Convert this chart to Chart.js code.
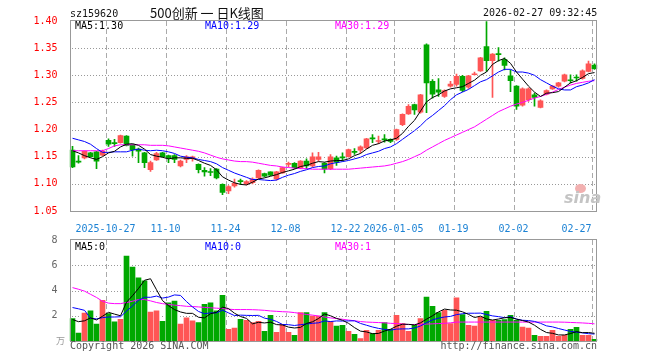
<!DOCTYPE html>
<html>
<head>
<meta charset="utf-8">
<script src="https://cdn.jsdelivr.net/npm/chart.js@4/dist/chart.umd.min.js"></script>
<style>
  html, body { margin: 0; padding: 0; background: #fff; }
  #wrap { position: relative; width: 660px; height: 360px; overflow: hidden;
          font-family: "DejaVu Sans Mono", monospace; font-size: 10px; line-height: 10px; }
  #wrap canvas { position: absolute; left: 0; }
  .t { position: absolute; white-space: pre; }
  .title { font-family: "Noto Sans CJK SC", sans-serif; font-size: 13px; line-height: 13px; color: #111; }
  .logo { font-family: "DejaVu Sans", sans-serif; font-weight: bold; font-style: italic;
          font-size: 16px; line-height: 16px; color: #c4c4c4; }
  .eye { position: absolute; width: 11px; height: 9px; border-radius: 50%; background: #f2b0b0; }
</style>
</head>
<body>
<div id="wrap">
  <canvas id="kline" width="660" height="235" style="top:0"></canvas>
  <canvas id="vol" width="660" height="135" style="top:225px"></canvas>

  <div class="t" style="left:70px;top:9px;color:#111">sz159620</div>
  <div class="t title" style="left:150px;top:6px">500创新 一 日K线图</div>
  <div class="t" style="left:483px;top:8px;color:#111">2026-02-27 09:32:45</div>

  <div class="t" style="left:75px;top:21px;color:#000">MA5:1.30</div>
  <div class="t" style="left:205px;top:21px;color:#0000ff">MA10:1.29</div>
  <div class="t" style="left:335px;top:21px;color:#ff00ff">MA30:1.29</div>

  <div class="t" style="left:75px;top:242px;color:#000">MA5:0</div>
  <div class="t" style="left:205px;top:242px;color:#0000ff">MA10:0</div>
  <div class="t" style="left:335px;top:242px;color:#ff00ff">MA30:1</div>

  <div class="t" style="left:70px;top:341px;color:#555">Copyright 2026 SINA.COM</div>
  <div class="t" style="right:63px;top:341px;color:#555">http://finance.sina.com.cn</div>
  <div class="t" style="left:56px;top:336px;color:#999;font-family:'Noto Sans CJK SC';font-size:9px;line-height:9px">万</div>

  <div class="eye" style="left:575px;top:184px"></div>
  <div class="t logo" style="left:564px;top:190px">sina</div>
</div>

<script>
"use strict";

// trading days shown (one candle each)
const dates = [
  "2025-10-17", "2025-10-20", "2025-10-21", "2025-10-22", "2025-10-23", "2025-10-24",
  "2025-10-27", "2025-10-28", "2025-10-29", "2025-10-30", "2025-10-31",
  "2025-11-03", "2025-11-04", "2025-11-05", "2025-11-06", "2025-11-07",
  "2025-11-10", "2025-11-11", "2025-11-12", "2025-11-13", "2025-11-14",
  "2025-11-17", "2025-11-18", "2025-11-19", "2025-11-20", "2025-11-21",
  "2025-11-24", "2025-11-25", "2025-11-26", "2025-11-27", "2025-11-28",
  "2025-12-01", "2025-12-02", "2025-12-03", "2025-12-04", "2025-12-05",
  "2025-12-08", "2025-12-09", "2025-12-10", "2025-12-11", "2025-12-12",
  "2025-12-15", "2025-12-16", "2025-12-17", "2025-12-18", "2025-12-19",
  "2025-12-22", "2025-12-23", "2025-12-24", "2025-12-25", "2025-12-26",
  "2025-12-29", "2025-12-30", "2025-12-31",
  "2026-01-05", "2026-01-06", "2026-01-07", "2026-01-08", "2026-01-09",
  "2026-01-12", "2026-01-13", "2026-01-14", "2026-01-15", "2026-01-16",
  "2026-01-19", "2026-01-20", "2026-01-21", "2026-01-22", "2026-01-23",
  "2026-01-26", "2026-01-27", "2026-01-28", "2026-01-29", "2026-01-30",
  "2026-02-02", "2026-02-03", "2026-02-04", "2026-02-05", "2026-02-06",
  "2026-02-09", "2026-02-10", "2026-02-11", "2026-02-12", "2026-02-13",
  "2026-02-24", "2026-02-25", "2026-02-26", "2026-02-27"
];

const tickDates = ["2025-10-27", "2025-11-10", "2025-11-24", "2025-12-08", "2025-12-22",
                   "2026-01-05", "2026-01-19", "2026-02-02", "2026-02-27"];
const tickText = ["2025-10-27", "11-10", "11-24", "12-08", "12-22",
                  "2026-01-05", "01-19", "02-02", "02-27"];

const priceTicks = [1.05, 1.10, 1.15, 1.20, 1.25, 1.30, 1.35, 1.40];
const volTicks = [0, 2, 4, 6, 8];

const open = [
  1.162, 1.141, 1.148, 1.157, 1.159, 1.153, 1.180, 1.175, 1.176, 1.188,
  1.172, 1.164, 1.157, 1.126, 1.144, 1.157, 1.152, 1.152, 1.133, 1.145,
  1.147, 1.136, 1.125, 1.122, 1.127, 1.099, 1.087, 1.096, 1.105, 1.100,
  1.102, 1.111, 1.119, 1.122, 1.109, 1.120, 1.136, 1.138, 1.130, 1.142,
  1.133, 1.145, 1.138, 1.128, 1.148, 1.149, 1.150, 1.159, 1.162, 1.166,
  1.184, 1.178, 1.182, 1.182, 1.182, 1.209, 1.229, 1.246, 1.232, 1.356,
  1.289, 1.273, 1.261, 1.280, 1.283, 1.298, 1.278, 1.301, 1.308, 1.353,
  1.327, 1.339, 1.329, 1.299, 1.280, 1.245, 1.255, 1.264, 1.241, 1.265,
  1.275, 1.280, 1.289, 1.291, 1.296, 1.294, 1.307, 1.319
];
const high = [
  1.169, 1.152, 1.161, 1.158, 1.160, 1.162, 1.183, 1.182, 1.190, 1.189,
  1.173, 1.166, 1.158, 1.142, 1.158, 1.158, 1.153, 1.154, 1.144, 1.152,
  1.151, 1.137, 1.130, 1.128, 1.128, 1.100, 1.097, 1.109, 1.109, 1.106,
  1.111, 1.126, 1.120, 1.122, 1.123, 1.131, 1.140, 1.139, 1.143, 1.146,
  1.157, 1.158, 1.139, 1.154, 1.151, 1.157, 1.164, 1.165, 1.170, 1.184,
  1.191, 1.188, 1.191, 1.183, 1.201, 1.229, 1.246, 1.247, 1.265, 1.358,
  1.292, 1.294, 1.273, 1.289, 1.302, 1.300, 1.300, 1.306, 1.333, 1.399,
  1.340, 1.351, 1.332, 1.310, 1.281, 1.277, 1.277, 1.267, 1.255, 1.273,
  1.281, 1.287, 1.302, 1.301, 1.301, 1.310, 1.326, 1.321
];
const low = [
  1.130, 1.138, 1.146, 1.149, 1.128, 1.152, 1.169, 1.169, 1.175, 1.170,
  1.151, 1.139, 1.130, 1.123, 1.143, 1.149, 1.139, 1.139, 1.131, 1.139,
  1.142, 1.120, 1.114, 1.115, 1.109, 1.080, 1.082, 1.094, 1.099, 1.098,
  1.100, 1.110, 1.113, 1.115, 1.107, 1.119, 1.131, 1.128, 1.128, 1.128,
  1.131, 1.142, 1.120, 1.126, 1.134, 1.142, 1.149, 1.154, 1.157, 1.165,
  1.176, 1.174, 1.177, 1.176, 1.180, 1.207, 1.228, 1.228, 1.230, 1.231,
  1.258, 1.261, 1.259, 1.278, 1.280, 1.270, 1.276, 1.300, 1.307, 1.307,
  1.259, 1.326, 1.310, 1.270, 1.237, 1.243, 1.252, 1.243, 1.240, 1.264,
  1.274, 1.278, 1.288, 1.286, 1.289, 1.293, 1.306, 1.311
];
const close = [
  1.131, 1.140, 1.160, 1.150, 1.142, 1.160, 1.173, 1.174, 1.189, 1.171,
  1.163, 1.160, 1.139, 1.139, 1.156, 1.150, 1.148, 1.145, 1.142, 1.150,
  1.150, 1.126, 1.122, 1.121, 1.111, 1.084, 1.095, 1.101, 1.104, 1.104,
  1.109, 1.125, 1.114, 1.116, 1.122, 1.130, 1.137, 1.130, 1.142, 1.133,
  1.150, 1.150, 1.127, 1.150, 1.140, 1.148, 1.163, 1.158, 1.168, 1.183,
  1.183, 1.179, 1.181, 1.178, 1.200, 1.228, 1.243, 1.236, 1.264, 1.286,
  1.265, 1.269, 1.272, 1.284, 1.298, 1.272, 1.299, 1.302, 1.332, 1.327,
  1.339, 1.338, 1.318, 1.290, 1.243, 1.275, 1.275, 1.259, 1.253, 1.272,
  1.280, 1.286, 1.301, 1.290, 1.295, 1.308, 1.321, 1.312
];

const ma5 = [
  1.161, 1.157, 1.152, 1.148, 1.145, 1.150, 1.157, 1.160, 1.168, 1.173,
  1.174, 1.171, 1.164, 1.154, 1.151, 1.149, 1.146, 1.148, 1.148, 1.147,
  1.147, 1.143, 1.138, 1.134, 1.126, 1.113, 1.107, 1.102, 1.099, 1.098,
  1.103, 1.109, 1.111, 1.114, 1.117, 1.121, 1.124, 1.127, 1.132, 1.134,
  1.138, 1.141, 1.140, 1.142, 1.143, 1.143, 1.146, 1.152, 1.156, 1.164,
  1.171, 1.174, 1.179, 1.181, 1.184, 1.193, 1.206, 1.217, 1.234, 1.251,
  1.259, 1.264, 1.271, 1.275, 1.277, 1.279, 1.285, 1.291, 1.300, 1.306,
  1.320, 1.327, 1.331, 1.322, 1.306, 1.293, 1.280, 1.269, 1.261, 1.267,
  1.268, 1.270, 1.278, 1.286, 1.290, 1.296, 1.303, 1.305
];
const ma10 = [
  1.184, 1.181, 1.178, 1.173, 1.165, 1.158, 1.158, 1.159, 1.159, 1.159,
  1.162, 1.164, 1.162, 1.161, 1.162, 1.161, 1.159, 1.156, 1.151, 1.149,
  1.148, 1.145, 1.143, 1.141, 1.137, 1.130, 1.125, 1.120, 1.116, 1.112,
  1.108, 1.108, 1.107, 1.106, 1.107, 1.112, 1.116, 1.119, 1.123, 1.126,
  1.130, 1.132, 1.133, 1.137, 1.139, 1.141, 1.143, 1.146, 1.149, 1.154,
  1.157, 1.160, 1.165, 1.168, 1.174, 1.182, 1.190, 1.198, 1.207, 1.218,
  1.226, 1.235, 1.244, 1.255, 1.264, 1.269, 1.274, 1.281, 1.288, 1.292,
  1.299, 1.306, 1.311, 1.311, 1.306, 1.306, 1.304, 1.300, 1.292, 1.286,
  1.280, 1.275, 1.273, 1.273, 1.279, 1.282, 1.286, 1.292
];
const ma30 = [
  1.161, 1.161, 1.161, 1.161, 1.161, 1.161, 1.165, 1.170, 1.172, 1.172,
  1.172, 1.172, 1.172, 1.171, 1.171, 1.171, 1.170, 1.168, 1.166, 1.164,
  1.162, 1.160, 1.157, 1.153, 1.149, 1.146, 1.144, 1.142, 1.141, 1.141,
  1.140, 1.138, 1.136, 1.134, 1.133, 1.131, 1.130, 1.129, 1.128, 1.128,
  1.127, 1.127, 1.127, 1.127, 1.127, 1.127, 1.127, 1.128, 1.129, 1.130,
  1.131, 1.132, 1.133, 1.135, 1.138, 1.141, 1.145, 1.150, 1.155, 1.162,
  1.168, 1.174, 1.180, 1.185, 1.190, 1.195, 1.200, 1.205, 1.212, 1.219,
  1.226, 1.233, 1.238, 1.243, 1.247, 1.250, 1.254, 1.258, 1.261, 1.265,
  1.269, 1.274, 1.278, 1.282, 1.285, 1.287, 1.289, 1.290
];

const volume = [
  1.77, 0.63, 2.22, 2.38, 1.35, 3.23, 2.17, 1.51, 1.72, 6.72,
  5.85, 5.00, 4.76, 2.30, 2.38, 1.56, 3.02, 3.17, 1.35, 1.83,
  1.59, 1.46, 2.91, 3.02, 2.38, 3.62, 0.93, 1.03, 1.72, 1.64,
  1.46, 1.56, 0.77, 2.04, 0.69, 1.30, 0.69, 0.45, 2.25, 2.25,
  1.98, 1.98, 2.25, 1.56, 1.19, 1.24, 0.77, 0.53, 0.19, 0.85,
  0.58, 0.85, 1.46, 0.93, 2.04, 1.38, 0.77, 1.24, 1.77, 3.47,
  2.75, 2.25, 2.43, 1.38, 3.41, 2.09, 1.24, 1.19, 1.90, 2.35,
  1.64, 1.64, 1.69, 2.04, 1.64, 1.11, 1.03, 0.45, 0.37, 0.37,
  0.85, 0.37, 0.45, 0.93, 1.08, 0.45, 0.45, 0.13
];
const volMa5 = [
  1.70, 1.53, 1.60, 1.83, 1.67, 1.96, 2.27, 2.13, 2.00, 3.07,
  3.59, 4.16, 4.81, 4.93, 4.06, 3.20, 2.80, 2.49, 2.30, 2.19,
  2.19, 1.88, 1.83, 2.16, 2.27, 2.68, 2.57, 2.20, 1.94, 1.79,
  1.36, 1.48, 1.43, 1.49, 1.30, 1.27, 1.10, 1.03, 1.08, 1.39,
  1.52, 1.78, 2.14, 2.00, 1.79, 1.64, 1.40, 1.06, 0.78, 0.72,
  0.58, 0.60, 0.79, 0.93, 1.17, 1.33, 1.32, 1.27, 1.44, 1.73,
  2.00, 2.30, 2.53, 2.46, 2.44, 2.31, 2.11, 1.86, 1.97, 1.75,
  1.66, 1.74, 1.84, 1.87, 1.73, 1.62, 1.50, 1.25, 0.92, 0.67,
  0.61, 0.48, 0.48, 0.59, 0.74, 0.66, 0.67, 0.61
];
const volMa10 = [
  2.65, 2.55, 2.43, 1.80, 1.75, 1.85, 1.90, 1.90, 1.92, 2.37,
  2.78, 3.22, 3.47, 3.46, 3.56, 3.40, 3.48, 3.65, 3.61, 3.12,
  2.70, 2.34, 2.16, 2.23, 2.23, 2.44, 2.23, 2.01, 2.05, 2.03,
  2.02, 2.03, 1.81, 1.72, 1.55, 1.31, 1.29, 1.23, 1.29, 1.35,
  1.40, 1.44, 1.59, 1.54, 1.59, 1.58, 1.59, 1.60, 1.39, 1.25,
  1.11, 1.00, 0.92, 0.86, 0.94, 0.96, 0.96, 1.03, 1.19, 1.45,
  1.67, 1.81, 1.90, 1.95, 2.09, 2.16, 2.20, 2.20, 2.21, 2.10,
  1.99, 1.93, 1.85, 1.92, 1.74, 1.64, 1.62, 1.55, 1.40, 1.20,
  1.12, 0.99, 0.87, 0.76, 0.70, 0.64, 0.58, 0.55
];
const volMa30 = [
  4.23, 4.10, 3.95, 3.70, 3.45, 3.15, 3.00, 2.96, 2.96, 3.05,
  3.15, 3.28, 3.28, 3.18, 3.05, 2.96, 2.90, 2.84, 2.80, 2.75,
  2.73, 2.70, 2.66, 2.63, 2.60, 2.57, 2.52, 2.49, 2.49, 2.49,
  2.48, 2.46, 2.43, 2.38, 2.35, 2.32, 2.30, 2.25, 2.18, 2.10,
  2.05, 1.98, 1.90, 1.83, 1.78, 1.72, 1.66, 1.60, 1.54, 1.50,
  1.48, 1.46, 1.44, 1.40, 1.38, 1.34, 1.30, 1.31, 1.32, 1.34,
  1.36, 1.38, 1.40, 1.44, 1.50, 1.50, 1.50, 1.50, 1.50, 1.50,
  1.50, 1.50, 1.50, 1.50, 1.50, 1.50, 1.50, 1.50, 1.50, 1.50,
  1.50, 1.50, 1.49, 1.47, 1.45, 1.43, 1.40, 1.36
];

const UP = "#ff5555";
const DOWN = "#00a800";
const candleColors = close.map((c, i) => (c > open[i] ? UP : DOWN));
const tickIdx = tickDates.map((d) => dates.indexOf(d));
const monoFont = { family: "DejaVu Sans Mono", size: 10 };
const PLOT_LEFT = 69.5;   // left edge of both plot areas
const PLOT_RIGHT_PAD = 62.5;

// dotted value lines, dashed date lines and the grey frame.
// Painted after the marks, but a grid pixel is only set where the
// canvas is still blank, so candles and lines stay on top.
function panelGrid(valueTicks) {
  return {
    id: "panelGrid",
    afterDatasetsDraw(chart) {
      const { ctx, chartArea: a, scales } = chart;
      const x = scales.x;
      const y = scales.y;
      const step = x.getPixelForValue(1) - x.getPixelForValue(0);
      const l = Math.round(a.left);
      const r = Math.floor(a.right) - 1;
      const t = Math.round(a.top) - 1;
      const b = Math.round(a.bottom);
      const w = r - l + 1;
      const h = b - t + 1;
      const img = ctx.getImageData(l, t, w, h).data;
      const blank = (px, py) => {
        const k = ((py - t) * w + (px - l)) * 4;
        return img[k + 3] < 40 || (img[k] > 235 && img[k + 1] > 235 && img[k + 2] > 235);
      };

      ctx.save();
      ctx.fillStyle = "#999999";
      valueTicks.slice(1, -1).forEach((v) => {
        const py = Math.round(y.getPixelForValue(v));
        for (let px = l + 2; px < r; px += 3) {
          if (blank(px, py)) ctx.fillRect(px, py, 1, 1);
        }
      });
      ctx.fillStyle = "#aaaaaa";
      tickIdx.forEach((i) => {
        const px = Math.round(x.getPixelForValue(i) - step / 2);
        for (let py = t + 1; py < b; py += 8) {
          for (let d = 0; d < 5 && py + d < b; d++) {
            if (blank(px, py + d)) ctx.fillRect(px, py + d, 1, 1);
          }
        }
      });

      ctx.fillStyle = "#999999";
      ctx.fillRect(l, t, w, 1);
      ctx.fillRect(l, b, w, 1);
      ctx.fillRect(l, t, 1, h);
      ctx.fillRect(r, t, 1, h);
      ctx.restore();
    }
  };
}

function maLine(label, data, color) {
  return {
    type: "line",
    label,
    data,
    borderColor: color,
    borderWidth: 1,
    pointRadius: 0,
    tension: 0,
    order: 0
  };
}

function dateAxis(showLabels, height) {
  return {
    type: "category",
    offset: true,
    afterFit: (scale) => { scale.height = height; },
    grid: { display: false },
    border: { display: false },
    ticks: {
      display: showLabels,
      autoSkip: false,
      maxRotation: 0,
      minRotation: 0,
      padding: 4,
      labelOffset: -3,
      color: "#1c82d4",
      font: monoFont,
      callback: (value, index) => {
        const k = tickIdx.indexOf(index);
        if (k < 0) return "";
        // last label sits left of its grid line, like the original
        return k === tickText.length - 1 ? tickText[k] + "     " : tickText[k];
      }
    }
  };
}

function valueAxis(min, max, ticks, color, format) {
  return {
    min,
    max,
    afterFit: (scale) => { scale.width = PLOT_LEFT; },
    afterBuildTicks: (scale) => { scale.ticks = ticks.map((v) => ({ value: v })); },
    grid: { display: false },
    border: { display: false },
    ticks: { padding: 4, color, font: monoFont, callback: format }
  };
}

new Chart(document.getElementById("kline"), {
  type: "bar",
  data: {
    labels: dates,
    datasets: [
      maLine("MA5", ma5, "#000000"),
      maLine("MA10", ma10, "#0000ff"),
      maLine("MA30", ma30, "#ff00ff"),
      {
        label: "body",
        data: open.map((o, i) => [o, close[i]]),
        backgroundColor: candleColors,
        barThickness: 5,
        minBarLength: 1,
        grouped: false,
        order: 1
      },
      {
        label: "wick",
        data: low.map((l, i) => [l, high[i]]),
        backgroundColor: candleColors,
        barThickness: 1,
        grouped: false,
        order: 2
      }
    ]
  },
  options: {
    responsive: false,
    animation: false,
    devicePixelRatio: 1,
    layout: { padding: { left: 0, right: PLOT_RIGHT_PAD, top: 21, bottom: 0 } },
    plugins: { legend: { display: false }, tooltip: { enabled: false } },
    scales: {
      x: dateAxis(true, 24),
      y: valueAxis(1.05, 1.40, priceTicks, "#ff0000", (v) => v.toFixed(2))
    }
  },
  plugins: [panelGrid(priceTicks)]
});

new Chart(document.getElementById("vol"), {
  type: "bar",
  data: {
    labels: dates,
    datasets: [
      maLine("MA5", volMa5, "#000000"),
      maLine("MA10", volMa10, "#0000ff"),
      maLine("MA30", volMa30, "#ff00ff"),
      {
        label: "volume",
        data: volume,
        backgroundColor: candleColors,
        barThickness: 5,
        grouped: false,
        order: 1
      }
    ]
  },
  options: {
    responsive: false,
    animation: false,
    devicePixelRatio: 1,
    layout: { padding: { left: 0, right: PLOT_RIGHT_PAD, top: 15, bottom: 19 } },
    plugins: { legend: { display: false }, tooltip: { enabled: false } },
    scales: {
      x: dateAxis(false, 0),
      y: valueAxis(0, 8, volTicks, "#666666", (v) => (v === 0 ? "" : String(v)))
    }
  },
  plugins: [panelGrid(volTicks)]
});
</script>
</body>
</html>
